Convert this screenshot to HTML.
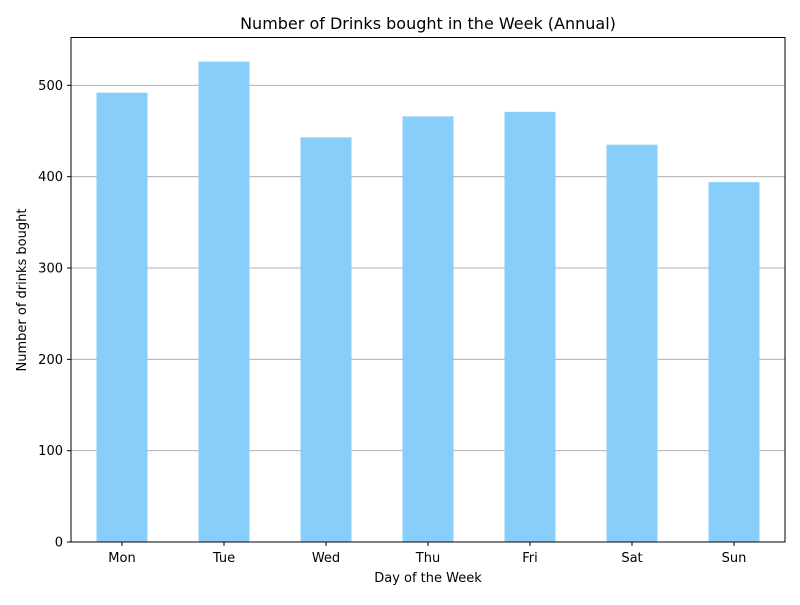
<!DOCTYPE html>
<html><head><meta charset="utf-8"><style>body{margin:0;background:#fff}svg{font-family:"DejaVu Sans","Liberation Sans",sans-serif}</style></head>
<body>
<svg id="chart" width="800" height="600">
<text x="428" y="29" font-size="16" text-anchor="middle">Number of Drinks bought in the Week (Annual)</text>
<g id="grid"></g><g id="bars"></g><g id="axes"></g>
<rect x="71" y="37.5" width="714" height="504.5" fill="none" stroke="#000" stroke-width="1"/>
<text x="428" y="582" font-size="13" text-anchor="middle">Day of the Week</text>
<text transform="translate(26,290) rotate(-90)" font-size="13" text-anchor="middle">Number of drinks bought</text>
</svg>
<script>
const categories=["Mon","Tue","Wed","Thu","Fri","Sat","Sun"];
const values=[492,526,443,466,471,435,394];
const yTicks=[0,100,200,300,400,500];
const L=71,R=785,T=37.5,B=542,yMax=552.4;
const ns="http://www.w3.org/2000/svg";
const y=v=>B-(v/yMax)*(B-T);
const band=(R-L)/categories.length;
const x=i=>L+band*(i+0.5);
function mk(t,a,p){const e=document.createElementNS(ns,t);for(const k in a)e.setAttribute(k,a[k]);p.appendChild(e);return e;}
const g=document.getElementById('grid'),bg=document.getElementById('bars'),ax=document.getElementById('axes');
yTicks.forEach(v=>{
 const l=mk('line',{x1:L,x2:R,y1:y(v),y2:y(v),stroke:'#b0b0b0','stroke-width':1},g);
 
 
 const tk=mk('line',{x1:L-4,x2:L,y1:y(v),y2:y(v),stroke:'#000'},ax);
 
 
 const t=mk('text',{x:L-8,y:y(v)+4.5,'font-size':13,'text-anchor':'end'},ax);t.textContent=v;
 
 
});
categories.forEach((c,i)=>{
 const w=band*0.5;
 const r=mk('rect',{x:x(i)-w/2,y:y(values[i]),width:w,height:B-y(values[i]),fill:'#87cefa'},bg);
 
 
 const tk=mk('line',{x1:x(i),x2:x(i),y1:B,y2:B+4,stroke:'#000'},ax);
 
 
 const t=mk('text',{x:x(i),y:B+20,'font-size':13,'text-anchor':'middle'},ax);t.textContent=c;
 
 
});
</script>
</body></html>
